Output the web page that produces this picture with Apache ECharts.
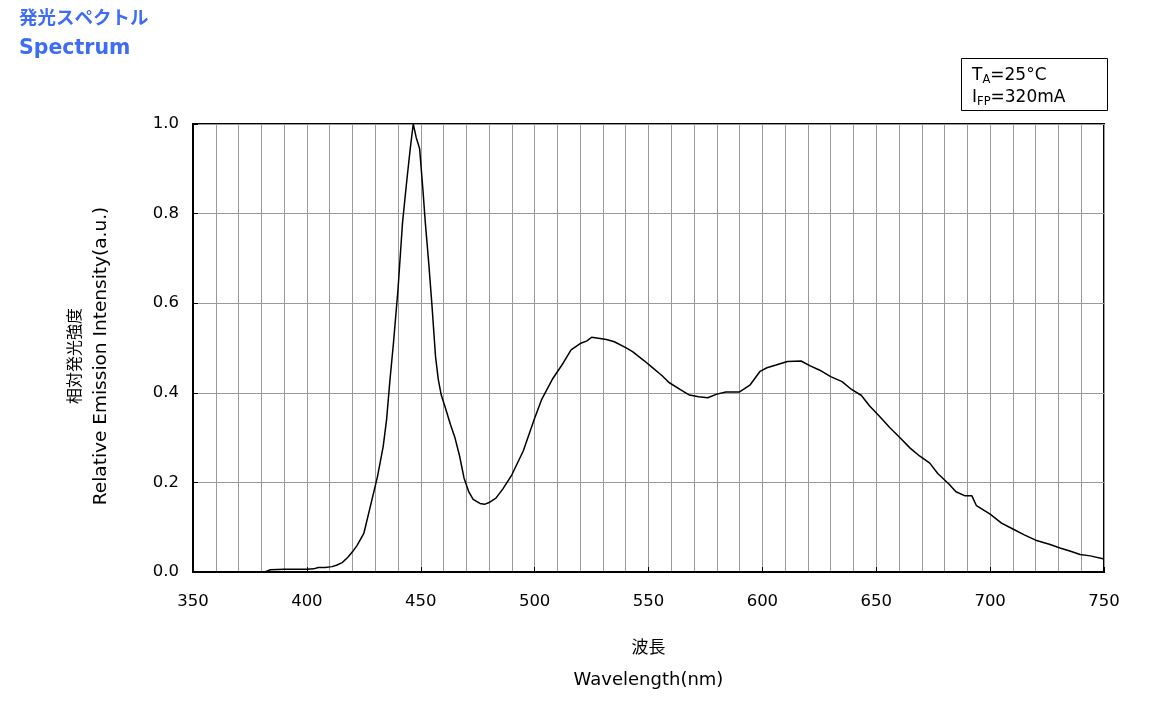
<!DOCTYPE html>
<html>
<head>
<meta charset="utf-8">
<script src="https://cdn.jsdelivr.net/npm/echarts@6/dist/echarts.min.js"></script>
<style>html,body{margin:0;padding:0;background:#fff}#c{width:1154px;height:701px}</style>
</head>
<body>
<div id="c"></div>
<script>
const wavelengths = [381.5,384,390,395,400,403,405,408,411,413,415.5,418,420,422,425,428.5,431,433.5,435,436.5,438,440,442,444,445.5,446.7,448,449.5,451,452,453.5,455,456.5,457.7,459,460.6,463,465,467,469,471,473,476,478,480,483,486,490,495,500,503,508,512.5,516,520,523,525,528,531.5,535,540,543,548,552,556,559,564,568,572,576,580,584,590,594.5,599,602,606,611,617,621,625,630,635,639,643.5,647,651.5,656,660,665,669,673.5,677,682,685,689,692,694,700,705,710,715,720,726,731,735,739.5,744,750];
const intensity = [0.0,0.005,0.006,0.006,0.006,0.007,0.010,0.010,0.012,0.015,0.021,0.033,0.045,0.059,0.086,0.16,0.213,0.28,0.34,0.43,0.51,0.63,0.78,0.88,0.95,1.0,0.97,0.945,0.85,0.78,0.69,0.59,0.48,0.43,0.395,0.37,0.33,0.30,0.26,0.21,0.18,0.162,0.153,0.151,0.155,0.165,0.185,0.217,0.27,0.343,0.384,0.432,0.466,0.496,0.510,0.516,0.524,0.522,0.519,0.514,0.501,0.492,0.472,0.455,0.438,0.423,0.407,0.395,0.391,0.389,0.397,0.402,0.402,0.417,0.448,0.456,0.462,0.470,0.471,0.460,0.451,0.436,0.425,0.408,0.394,0.371,0.347,0.322,0.302,0.276,0.259,0.243,0.220,0.196,0.179,0.170,0.170,0.148,0.129,0.109,0.096,0.083,0.071,0.062,0.053,0.047,0.039,0.036,0.029];
const xTicks = [350,400,450,500,550,600,650,700,750];
const yTicks = [0.0,0.2,0.4,0.6,0.8,1.0];
const titleJa = '発光スペクトル';
const titleEn = 'Spectrum';
const xNameJa = '波長';
const xNameEn = 'Wavelength(nm)';
const yNameJa = '相対発光強度';
const yNameEn = 'Relative Emission Intensity(a.u.)';

const font = 'DejaVu Sans, Verdana, sans-serif';
const cjk = 'Noto Sans CJK JP, sans-serif';
const chart = echarts.init(document.getElementById('c'));
chart.setOption({
  animation:false,
  backgroundColor:'#fff',
  grid:{left:193, right:50, top:124, bottom:129, show:true, borderColor:'#000', borderWidth:2, backgroundColor:'transparent'},
  xAxis:{
    type:'value', min:xTicks[0], max:xTicks[xTicks.length-1], interval:50,
    axisLine:{show:true, lineStyle:{color:'#000', width:2}},
    axisTick:{show:true, inside:true, length:5, lineStyle:{color:'#000', width:1}},
    axisLabel:{color:'#000', fontSize:16.5, fontFamily:font, margin:21},
    splitLine:{show:true, lineStyle:{color:'#999', width:1}},
    minorTick:{show:false, splitNumber:5},
    minorSplitLine:{show:true, lineStyle:{color:'#999', width:1}},
    name:'{a|'+xNameJa+'}\n{b|'+xNameEn+'}', nameLocation:'middle', nameGap:58,
    nameTextStyle:{color:'#000', fontFamily:font, rich:{
      a:{fontSize:17, lineHeight:34, fontFamily:cjk, color:'#000'},
      b:{fontSize:18, lineHeight:32, fontFamily:font, color:'#000'}}}
  },
  yAxis:{
    type:'value', min:yTicks[0], max:yTicks[yTicks.length-1], interval:0.2,
    axisLine:{show:true, lineStyle:{color:'#000', width:2}},
    axisTick:{show:true, inside:true, length:5, lineStyle:{color:'#000', width:1}},
    axisLabel:{color:'#000', fontSize:16.5, fontFamily:font, margin:14, formatter:v=>v.toFixed(1)},
    splitLine:{show:true, lineStyle:{color:'#999', width:1}},
    name:'{a|'+yNameJa+'}\n{b|'+yNameEn+'}', nameLocation:'middle', nameGap:80, nameRotate:90,
    nameTextStyle:{color:'#000', fontFamily:font, padding:[0,16,0,0], rich:{
      a:{fontSize:16, lineHeight:30, fontFamily:cjk, color:'#000'},
      b:{fontSize:18.5, lineHeight:24, fontFamily:font, color:'#000'}}}
  },
  series:[{
    type:'line', data:wavelengths.map((w,i)=>[w,intensity[i]]),
    showSymbol:false, smooth:false, lineStyle:{color:'#000', width:1.5}, z:5
  }],
  graphic:[
    {type:'text', left:19, top:8, style:{text:titleJa, fill:'#3f6cf5', font:'bold 18.5px '+cjk}},
    {type:'text', left:19, top:38, style:{text:titleEn, fill:'#3f6cf5', font:'bold 20.5px '+font}},
    {type:'rect', shape:{x:961.5, y:58.5, width:146, height:52}, style:{fill:'#fff', stroke:'#000', lineWidth:1}},
    {type:'text', left:972, top:67, style:{
      rich:{m:{fontSize:17, fontFamily:font, fill:'#000', lineHeight:22}, s:{fontSize:11.5, fontFamily:font, fill:'#000', lineHeight:22, verticalAlign:'bottom', padding:[7,0,0,0]}},
      text:'{m|T}{s|A}{m|=25°C}\n{m|I}{s|FP}{m|=320mA}'}}
  ]
});
</script>
</body>
</html>
